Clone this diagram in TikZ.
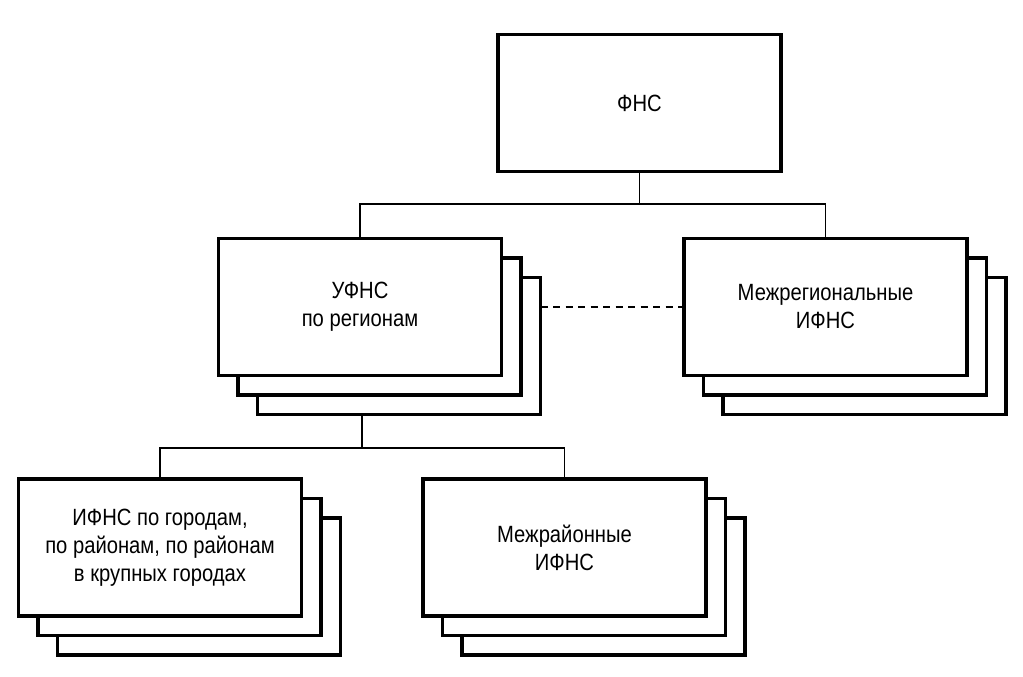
\documentclass[tikz,border=0pt]{standalone}
\usepackage{fontspec}
\setmainfont{Liberation Sans}[FakeStretch=0.86]
\usetikzlibrary{shadows,backgrounds}
\tikzset{every node/.style={draw=none,inner sep=0pt},
  unit/.style={draw,fill=white,line width=3.4pt,minimum width=283pt,minimum height=137pt,
    align=center,font=\fontsize{23.5}{28}\selectfont},
  stack/.style={unit,copy shadow={shadow xshift=39pt,shadow yshift=-39pt},
    copy shadow={shadow xshift=19.5pt,shadow yshift=-19.5pt}},
  link/.style={line width=1.5pt}}

\begin{document}
\begin{tikzpicture}[x=1pt,y=-1pt]
      \useasboundingbox (0,0) rectangle (1023,677);
      \node[unit] (fns) at (639.5,103) {ФНС};
      \node[stack] (ufns) at (360,307) {УФНС\\по регионам};
      \node[stack] (mreg) at (825.5,307) {Межрегиональные\\ИФНС};
      \node[stack] (ifns) at (160,547.5) {ИФНС по городам,\\по районам, по районам\\в крупных городах};
      \node[stack] (mraion) at (564.5,547.5) {Межрайонные\\ИФНС};

\begin{scope}[on background layer]
  \coordinate (top) at (639.5,204);
  \coordinate (mid) at (362,448);
  \draw[link] (fns) -- (top);
  \foreach \b in {ufns,mreg}
    \draw[link] (top) -| (\b);
  \draw[link] (ufns.south -| mid) -- (mid);
  \foreach \b in {ifns,mraion}
    \draw[link] (mid) -| (\b);
  \draw[link,dash pattern=on 7pt off 5.5pt] (ufns) -- (mreg);
\end{scope}
    \end{tikzpicture}
\end{document}
